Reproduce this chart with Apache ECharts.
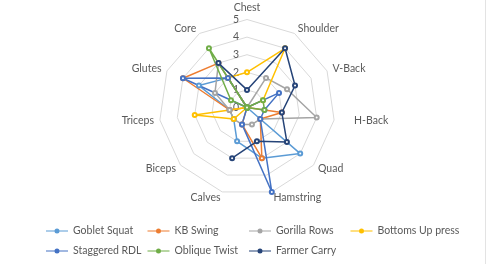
<!DOCTYPE html>
<html><head><meta charset="utf-8">
<script src="https://cdn.jsdelivr.net/npm/echarts@6/dist/echarts.min.js"></script>
<style>html,body{margin:0;padding:0;background:#fff}#c{width:500px;height:264px}</style>
</head><body><div id="c"></div>
<script>
const indicators = ['Chest','Shoulder','V-Back','H-Back','Quad','Hamstring','Calves','Biceps','Triceps','Glutes','Core'];
const axisMax = 5;
const seriesNames = ['Goblet Squat','KB Swing','Gorilla Rows','Bottoms Up press','Staggered RDL','Oblique Twist','Farmer Carry'];
const gobletSquat    = [0, 0, 0,   0, 4, 3, 2, 1, 1, 3, 2];
const kbSwing        = [0, 0, 0,   2, 1, 3, 1, 0, 1, 4, 3];
const gorillaRows    = [0, 2, 2.5, 4, 1, 1, 1, 1, 1, 2, 3];
const bottomsUpPress = [2, 4, 1,   0, 0, 0, 0, 1, 3, 0, 2];
const staggeredRDL   = [0, 0, 2,   1, 1, 5, 1, 0, 0, 4, 2];
const obliqueTwist   = [0, 0, 1,   1, 0, 0, 0, 0, 0, 1, 4];
const farmerCarry    = [1, 4, 3,   2, 3, 2, 3, null, null, null, 3];
const colors = ['#5B9BD5','#ED7D31','#A5A5A5','#FFC000','#4472C4','#70AD47','#264478'];

const allValues = [gobletSquat, kbSwing, gorillaRows, bottomsUpPress, staggeredRDL, obliqueTwist, farmerCarry];
// ECharts lays radar indicators out counter-clockwise; reorder so they run clockwise like the source
const order = [0,10,9,8,7,6,5,4,3,2,1];
const FONT = 'Lato';
const FS = 10.5;
const CENTER = [247, 107.5];
const RADIUS = 88;

const namePad = {'H-Back': [0, 0, 0, 14]};

const radarSeries = seriesNames.slice(0, 6).map((name, s) => ({
  type: 'radar',
  name: name,
  symbol: 'emptyCircle',
  symbolSize: 4,
  lineStyle: {width: 1.5, color: colors[s]},
  itemStyle: {color: colors[s], borderWidth: 1},
  data: [{name: name, value: order.map(k => allValues[s][k])}]
}));

// Farmer Carry has blank cells, drawn as a gapped line on a matching polar grid
const fcData = farmerCarry.map((v, i) => v == null ? [null, i] : [v, i]);
fcData.push([farmerCarry[0], indicators.length]);

const chart = echarts.init(document.getElementById('c'));
chart.setOption({
  animation: false,
  color: colors,
  textStyle: {fontFamily: FONT},
  radar: {
    center: CENTER,
    radius: RADIUS,
    startAngle: 90,
    splitNumber: 5,
    shape: 'polygon',
    nameGap: 6,
    axisName: {color: '#595959', fontSize: FS, fontFamily: FONT},
    splitLine: {lineStyle: {color: '#d9d9d9', width: 1}},
    splitArea: {show: false},
    axisLine: {show: false},
    axisTick: {show: false},
    axisLabel: {show: false},
    indicator: order.map((k, i) => {
      const ind = {name: indicators[k], min: 0, max: axisMax};
      if (i === 0) ind.axisLabel = {show: true, color: '#595959', fontSize: FS, fontFamily: FONT, margin: 8};
      if (namePad[indicators[k]]) ind.nameTextStyle = {padding: namePad[indicators[k]]};
      return ind;
    })
  },
  polar: {center: CENTER, radius: RADIUS},
  angleAxis: {type: 'value', min: 0, max: indicators.length, startAngle: 90, clockwise: true, show: false},
  radiusAxis: {type: 'value', min: 0, max: axisMax, show: false},
  legend: {
    left: 46, top: 222.5, width: 420, padding: 0,
    itemWidth: 22, itemHeight: 5, itemGap: 3,
    icon: 'path://M0,3.4 L22,3.4 L22,4.6 L0,4.6 Z M13.5,4 A2.5,2.5 0 1 1 8.5,4 A2.5,2.5 0 1 1 13.5,4 Z',
    textStyle: {color: '#595959', fontSize: FS, fontFamily: FONT, width: 71.5, lineHeight: 17},
    data: seriesNames
  },
  graphic: [{type: 'line', shape: {x1: 485.5, y1: 0, x2: 485.5, y2: 264}, style: {stroke: '#e3e3e3', lineWidth: 1}}],
  series: radarSeries.concat([{
    type: 'line',
    name: 'Farmer Carry',
    coordinateSystem: 'polar',
    symbol: 'emptyCircle',
    symbolSize: 4,
    showAllSymbol: true,
    connectNulls: false,
    lineStyle: {width: 1.5, color: colors[6]},
    itemStyle: {color: colors[6], borderWidth: 1},
    data: fcData.slice(0, fcData.length - 1).map((p, i) => ({value: p, symbol: 'emptyCircle'})).concat([{value: fcData[fcData.length - 1], symbol: 'none'}])
  }])
});
</script></body></html>
